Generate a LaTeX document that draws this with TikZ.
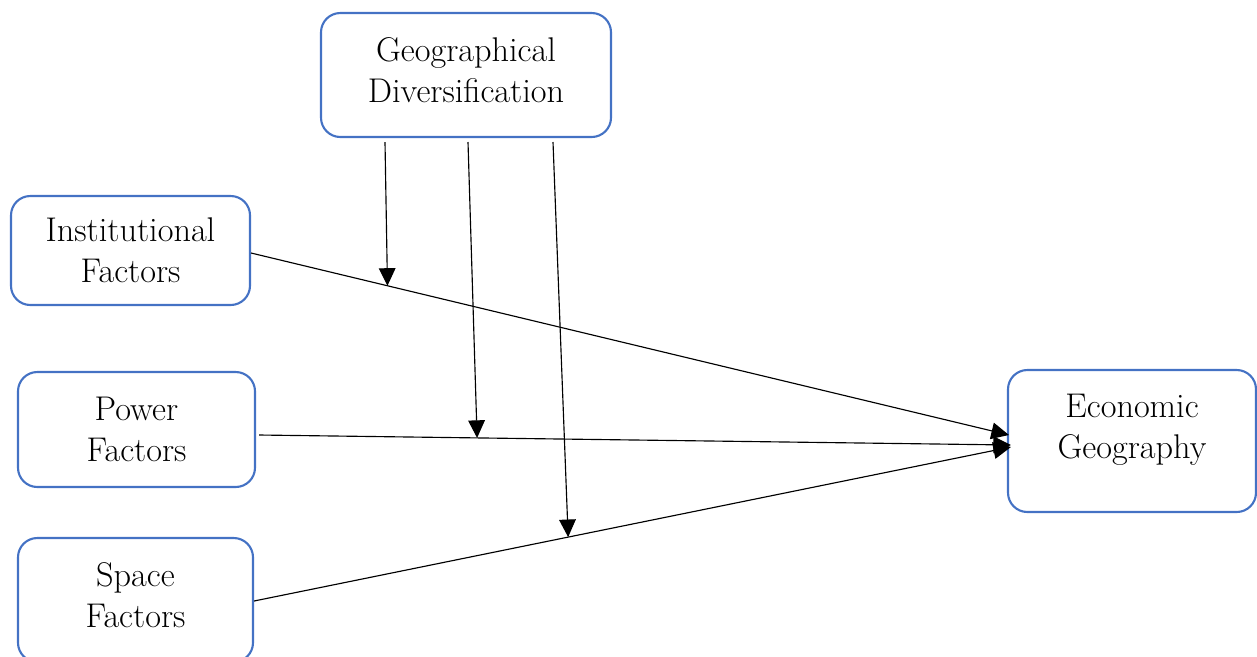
\documentclass[tikz,border=0pt]{standalone}
\usepackage{xcolor}
\usepackage{tikz}
\usetikzlibrary{positioning,arrows.meta}
\definecolor{boxblue}{HTML}{4472C4}
\tikzset{
  box/.style={draw=boxblue,line width=1.2pt,rounded corners=11pt,align=center,
    font=\fontsize{19.5}{23.5}\selectfont,inner sep=4pt},
  arr/.style={-{Triangle[length=10pt,width=9.5pt]},line width=0.65pt},
}

\begin{document}
\begin{tikzpicture}
\useasboundingbox (0,0) rectangle (25.14,-13.12);
\node[box, minimum width=5.8cm, minimum height=2.48cm, text depth=0.2cm] (geo) at (9.32,-1.5) {Geographical\\Diversification};
\node[box, minimum width=4.78cm, minimum height=2.18cm] (inst) at (2.61,-5.01) {Institutional\\Factors};
\node[box, minimum width=4.74cm, minimum height=2.30cm] (power) at (2.73,-8.59) {Power\\Factors};
\node[box, minimum width=4.70cm, minimum height=2.48cm, text depth=0.2cm] (space) at (2.71,-12.0) {Space\\Factors};
\node[box, minimum width=4.96cm, minimum height=2.84cm, text depth=0.58cm] (econ) at (22.64,-8.82) {Economic\\Geography};
% main paths
\draw[arr] ([yshift=-0.05cm]inst.east) -- ([xshift=0.04cm,yshift=0.12cm]econ.west);
\draw[arr] ([xshift=0.06cm,yshift=-0.11cm]power.east) -- ([xshift=0.08cm,yshift=-0.08cm]econ.west);
\draw[arr] ([yshift=-0.02cm]space.east) -- ([xshift=0.08cm,yshift=-0.12cm]econ.west);
% moderating arrows
\path ([yshift=-0.05cm]inst.east) -- ([xshift=0.04cm,yshift=0.12cm]econ.west) coordinate[pos=0.18] (m1);
\path ([xshift=0.06cm,yshift=-0.11cm]power.east) -- ([xshift=0.08cm,yshift=-0.08cm]econ.west) coordinate[pos=0.29] (m2);
\path ([yshift=-0.02cm]space.east) -- ([xshift=0.08cm,yshift=-0.12cm]econ.west) coordinate[pos=0.415] (m3);
\coordinate (g1) at (7.7,-2.84);
\coordinate (g2) at (9.36,-2.84);
\coordinate (g3) at (11.06,-2.84);
\draw[arr] (g1) -- (m1);
\draw[arr] (g2) -- (m2);
\draw[arr] (g3) -- (m3);
\end{tikzpicture}
\end{document}
